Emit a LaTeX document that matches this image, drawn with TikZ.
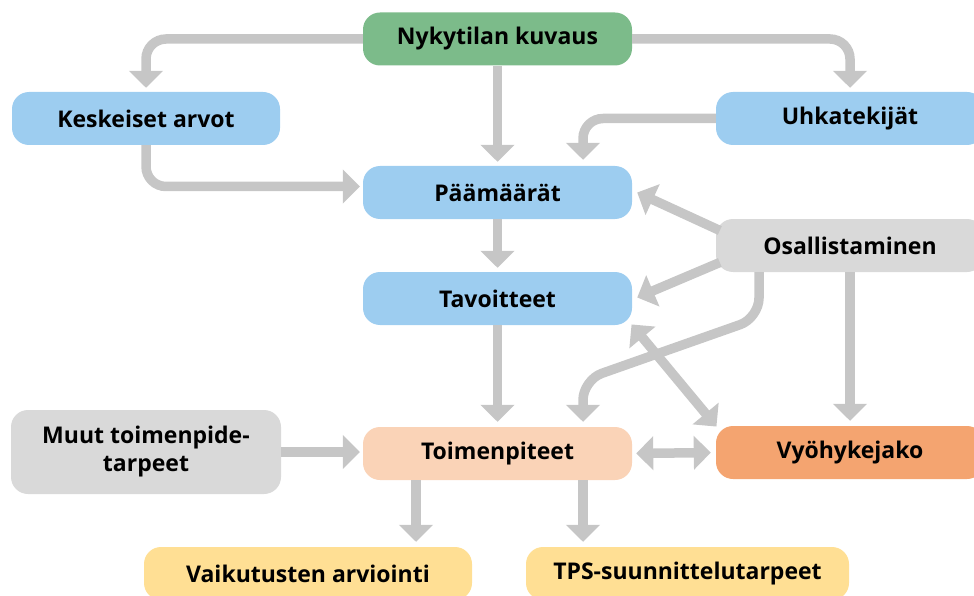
\documentclass[tikz,border=0pt]{standalone}
\usepackage{fontspec}
\setmainfont{Open Sans}
\usetikzlibrary{arrows.meta,calc}
\definecolor{cgreen}{HTML}{7CBB8A}
\definecolor{cblue}{HTML}{9DCDF0}
\definecolor{cgray}{HTML}{D9D9D9}
\definecolor{cpeach}{HTML}{FAD3B7}
\definecolor{corange}{HTML}{F4A470}
\definecolor{cyellow}{HTML}{FFDF94}
\definecolor{carrow}{HTML}{C6C6C6}
\begin{document}
\begin{tikzpicture}[x=1pt,y=-1pt,
  box/.style={rectangle,rounded corners=17pt,minimum width=269pt,minimum height=53pt,
    inner sep=0pt,align=center,font=\fontsize{23}{28}\selectfont\bfseries},
  conn/.style={draw=carrow,line width=9.5pt,rounded corners=20pt,
    -{Triangle[width=33pt,length=17pt]}},
  conn2/.style={draw=carrow,line width=9.5pt,
    {Triangle[width=33pt,length=17pt]}-{Triangle[width=33pt,length=17pt]}}]
\useasboundingbox (0,0) rectangle (974,596);
\node[box,fill=cgreen] (nyk) at (497.5,39) {Nykytilan kuvaus};
\node[box,fill=cblue,minimum width=268pt] (kes) at (146,118.5) {Keskeiset arvot};
\node[box,fill=cblue,minimum width=268pt] (uhk) at (850,118.5) {Uhkatekijät};
\node[box,fill=cblue] (pam) at (497.5,192.5) {Päämäärät};
\node[box,fill=cblue] (tav) at (497.5,298.5) {Tavoitteet};
\node[box,fill=cgray,minimum width=268pt] (osa) at (850,245.5) {Osallistaminen};
\node[box,fill=cpeach] (toi) at (497.5,453.5) {Toimenpiteet};
\node[box,fill=cgray,minimum width=270pt,minimum height=84pt] (muu) at (146,452) {Muut toimenpide-\\tarpeet};
\node[box,fill=corange,minimum width=268pt] (vyo) at (850,452.5) {Vyöhykejako};
\node[box,fill=cyellow,minimum width=328pt] (vai) at (308,573.5) {Vaikutusten arviointi};
\node[box,fill=cyellow,minimum width=323pt] (tps) at (687.5,573.5) {TPS-suunnittelutarpeet};
% connectors
\draw[conn,shorten >=4pt] (nyk.west) -| (kes.north);
\draw[conn,shorten >=4pt] (nyk.east) -| (uhk.north);
\draw[conn,shorten >=4pt] (nyk.south) -- (pam.north);
\draw[conn,shorten >=3pt] (kes.south) |- ($(pam.west)+(0,-6)$);
\draw[conn,shorten >=6pt] (uhk.west) -| ($(pam.north)+(85.5,0)$);
\draw[conn,shorten >=4pt] (pam.south) -- (tav.north);
\draw[conn] ($(osa.west)+(4,-15)$) -- ($(pam.east)+(5,0)$);
\draw[conn] ($(osa.west)+(4,17)$) -- ($(tav.east)+(5,-1)$);
\draw[conn,shorten >=5pt] ($(osa.south)+(-91,0)$) -- (759,318) -- (583,380) -- ($(toi.north)+(85.5,0)$);
\draw[conn,shorten >=5pt] (osa.south) -- (vyo.north);
\draw[conn,shorten >=5pt] (tav.south) -- (toi.north);
\draw[conn2,shorten <=-1pt,shorten >=-1pt] (tav.south east) -- (vyo.north west);
\draw[conn2,shorten <=4pt,shorten >=5pt] (toi.east) -- (vyo.west);
\draw[conn,shorten >=3pt] (muu.east) -- (toi.west |- muu.east);
\draw[conn,shorten >=5pt] ($(toi.south)+(-81.5,0)$) -- ($(vai.north)+(108,0)$);
\draw[conn,shorten >=5pt] ($(toi.south)+(85.5,0)$) -- ($(tps.north)+(-104.5,0)$);
\end{tikzpicture}
\end{document}
